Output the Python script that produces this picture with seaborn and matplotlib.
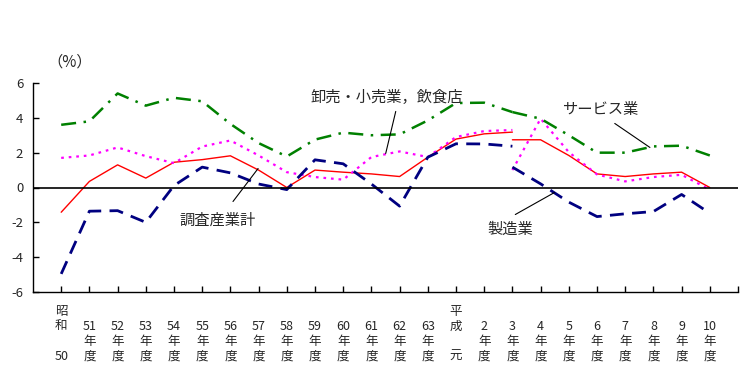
import matplotlib
matplotlib.use("Agg")
import matplotlib.pyplot as plt
import seaborn as sns
import numpy as np

# ============================================
# Data (%)
# ============================================

# categories: 昭和50 ... 63年度, 平成元, 2年度 ... 10年度
YEAR_LABELS = ['昭\n和\n \n50'] + [f' \n{y}\n年\n度' for y in range(51, 64)] \
    + ['平\n成\n \n元'] + [f' \n{y}\n年\n度' for y in range(2, 11)]

# old basis: index 0 (昭和50) .. 16 (平成3年度)
# new basis: index 16 (平成3年度) .. 23 (平成10年度)
TOTAL_OLD = [-1.42, 0.35, 1.3, 0.54, 1.45, 1.6, 1.82, 1.0, 0.0, 1.0, 0.88, 0.78,
             0.63, 1.74, 2.78, 3.08, 3.18]
TOTAL_NEW = [2.74, 2.74, 1.84, 0.78, 0.63, 0.78, 0.88, 0.0]

RETAIL_OLD = [1.7, 1.84, 2.3, 1.8, 1.4, 2.35, 2.7, 1.84, 0.88, 0.6, 0.45, 1.75,
              2.07, 1.75, 2.9, 3.24, 3.3]
RETAIL_NEW = [1.0, 3.95, 2.03, 0.75, 0.35, 0.6, 0.73, -0.12]

SERVICE_OLD = [3.6, 3.8, 5.4, 4.7, 5.15, 4.95, 3.65, 2.55, 1.78, 2.75, 3.15, 3.0,
               3.05, 3.85, 4.85, 4.87, 4.33]
SERVICE_NEW = [4.33, 3.95, 3.0, 2.0, 2.0, 2.36, 2.4, 1.84]

MANUF_OLD = [-4.96, -1.36, -1.33, -2.0, 0.11, 1.17, 0.84, 0.2, -0.12, 1.59, 1.36,
             0.2, -1.07, 1.74, 2.51, 2.5, 2.37]
MANUF_NEW = [1.17, 0.21, -0.84, -1.67, -1.51, -1.38, -0.4, -1.48]

BREAK_IDX = 16

# ============================================
# Plot
# ============================================

sns.set_style("white")
plt.rcParams['font.family'] = ['Noto Sans CJK JP', 'DejaVu Sans']

fig = plt.figure(figsize=(7.53, 3.74), dpi=100)
ax = fig.add_axes([33 / 753, 1 - 292 / 374, (738 - 33) / 753, (292 - 83) / 374])

series = [
    (TOTAL_OLD, TOTAL_NEW, '#FF0000', '-', 1.0),
    (RETAIL_OLD, RETAIL_NEW, '#FF00FF', (0, (1.2, 2.2)), 1.6),
    (SERVICE_OLD, SERVICE_NEW, '#008000', (0, (6, 3, 1, 3)), 1.8),
    (MANUF_OLD, MANUF_NEW, '#000080', (0, (5, 3)), 2.0),
]

x_old = np.arange(0, BREAK_IDX + 1)
x_new = np.arange(BREAK_IDX, len(YEAR_LABELS))

for old_vals, new_vals, color, ls, lw in series:
    for xs, vals in ((x_old, old_vals), (x_new, new_vals)):
        sns.lineplot(x=xs, y=vals, ax=ax, color=color, linestyle=ls,
                     linewidth=lw, sort=False, legend=False)

ax.axhline(0, color='black', lw=1.2)

ax.set_xlim(-1, 24)
ax.set_ylim(-6, 6)
ax.set_yticks([-6, -4, -2, 0, 2, 4, 6])
ax.set_yticklabels(['-6', '-4', '-2', '0', '2', '4', '6'], fontsize=9.5)
ax.set_xticks(range(len(YEAR_LABELS)))
ax.set_xticklabels(YEAR_LABELS, fontsize=9, linespacing=1.2, va='top')
ax.set_xticks([24], minor=True)
ax.tick_params(axis='both', which='both', direction='in', length=4,
               width=1, color='black', left=True, bottom=True)
ax.tick_params(axis='x', pad=9)
ax.tick_params(axis='y', pad=7)

for side in ['top', 'right']:
    ax.spines[side].set_visible(False)
for side in ['left', 'bottom']:
    ax.spines[side].set_color('black')
    ax.spines[side].set_linewidth(1.0)
ax.set_xlabel('')
ax.set_ylabel('')
ax.grid(False)

# unit label
fig.text(70 / 753, 1 - 62 / 374, '（%）', ha='center', va='center', fontsize=11)

# series annotations (text + leader line), in axes data coords
def to_data(px, py):
    return ((px - 61) / 28.07, (187 - py) / 17.4)

notes = [
    ('調査産業計', (217, 220), (232, 201), (257, 168)),
    ('卸売・小売業，飲食店', (385, 97), (394, 111), (384, 153)),
    ('サービス業', (597, 109), (612, 123), (647, 147)),
    ('製造業', (508, 229), (513, 214), (552, 192)),
]
for text, tpos, p1, p2 in notes:
    tx, ty = to_data(*tpos)
    ax.text(tx, ty, text, ha='center', va='center', fontsize=11)
    (x1, y1), (x2, y2) = to_data(*p1), to_data(*p2)
    ax.plot([x1, x2], [y1, y2], color='black', lw=0.8)

fig.savefig('out.png', dpi=100)
